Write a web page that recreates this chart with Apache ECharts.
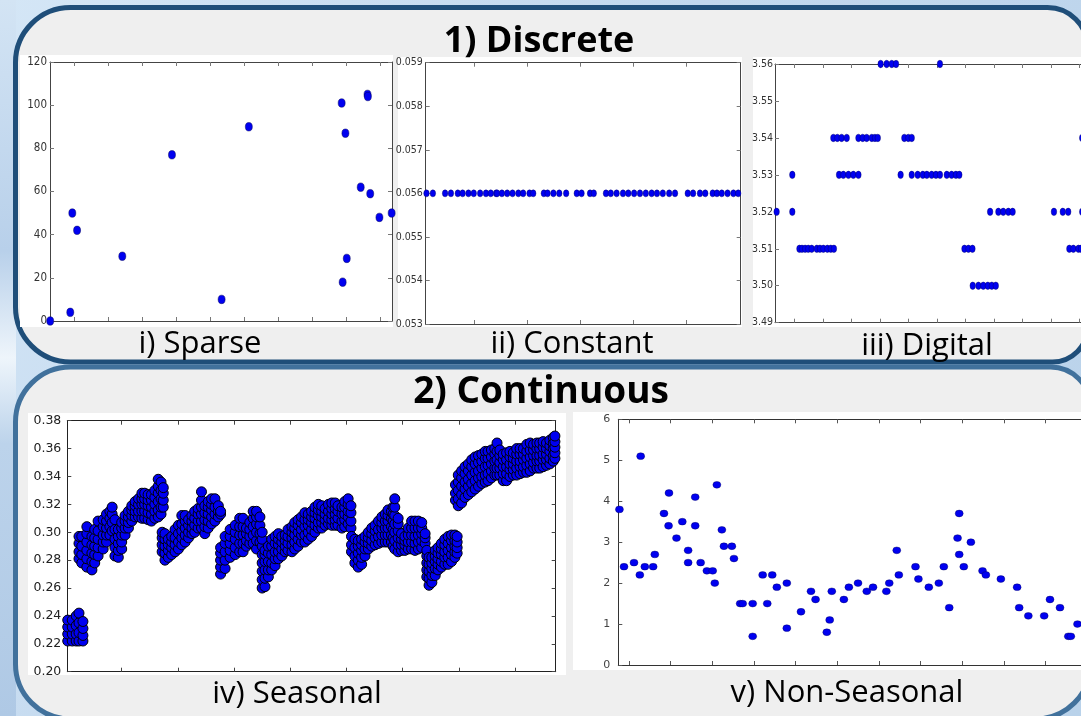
<!DOCTYPE html>
<html><head><meta charset="utf-8">
<script src="https://cdn.jsdelivr.net/npm/echarts@6/dist/echarts.min.js"></script>
<style>html,body{margin:0;padding:0;background:#cfe2f3;}#c{width:1081px;height:716px;}</style>
</head><body><div id="c"></div>
<script>
// ---------------- DATA ----------------
const panelTitles = ['1) Discrete', '2) Continuous'];
const plotTitles = ['i) Sparse', 'ii) Constant', 'iii) Digital', 'iv) Seasonal', 'v) Non-Seasonal'];

// i) Sparse
const sparseX = [-7.0, -1.1, -0.5, 0.9, 14.2, 28.8, 43.4, 51.4, 78.7, 79.8, 79.0, 80.2, 86.3, 86.4, 84.3, 87.1, 89.8, 93.4];
const sparseY = [0, 4, 50, 42, 30, 77, 10, 90, 101, 87, 18, 29, 105, 104, 62, 59, 48, 50];
const sparseXTicks = [0, 10, 20, 30, 40, 50, 60, 70, 80, 90];

// ii) Constant
const constantX = [-9.0, -7.8, -5.5, -4.4, -3.1, -2.2, -1.1, -0.1, 1.1, 2.2, 3.1, 4.1, 4.3,
  5.2, 6.2, 7.2, 8.3, 9.2, 10.4, 11.1, 13.1, 13.8, 14.9, 16.0, 17.3, 19.3,
  20.2, 21.8, 22.5, 24.8, 25.7, 26.8, 28.0, 29.0, 30.1, 31.2, 32.3, 33.4, 34.4,
  35.5, 36.7, 37.8, 40.2, 41.2, 42.5, 43.5, 44.9, 45.7, 46.6, 47.7, 48.8, 49.7];
const constantY = [0.056, 0.056, 0.056, 0.056, 0.056, 0.056, 0.056, 0.056, 0.056, 0.056, 0.056, 0.056, 0.056,
  0.056, 0.056, 0.056, 0.056, 0.056, 0.056, 0.056, 0.056, 0.056, 0.056, 0.056, 0.056, 0.056,
  0.056, 0.056, 0.056, 0.056, 0.056, 0.056, 0.056, 0.056, 0.056, 0.056, 0.056, 0.056, 0.056,
  0.056, 0.056, 0.056, 0.056, 0.056, 0.056, 0.056, 0.056, 0.056, 0.056, 0.056, 0.056, 0.056];
const constantXTicks = [0, 10, 20, 30, 40];

// iii) Digital
const digitalX = [-6.2, -0.7, -0.7,
  1.8, 2.7, 3.8, 4.9, 6.1, 7.9, 9.0, 10.2, 11.6, 12.8, 13.9,
  13.7, 15.1, 16.6, 18.4,
  15.7, 17.2, 19.0, 20.7, 22.5,
  22.5, 24.0, 25.4, 27.2, 28.3, 29.3,
  30.3, 32.4, 34.2, 35.7,
  37.3,
  38.6, 40.0, 41.2,
  41.2, 43.3, 45.1, 46.5, 48.2, 49.7, 51.1, 53.5, 55.2, 56.7, 57.9,
  51.1,
  59.7, 61.1, 62.5,
  62.6, 64.6, 66.3, 67.9, 69.3, 70.7,
  68.7, 71.6, 73.3, 75.1, 76.6,
  91.1, 94.2, 96.1,
  96.5, 97.9, 99.7, 100.6,
  101.0, 101.0];
const digitalY = [3.52, 3.53, 3.52,
  3.51, 3.51, 3.51, 3.51, 3.51, 3.51, 3.51, 3.51, 3.51, 3.51, 3.51,
  3.54, 3.54, 3.54, 3.54,
  3.53, 3.53, 3.53, 3.53, 3.53,
  3.54, 3.54, 3.54, 3.54, 3.54, 3.54,
  3.56, 3.56, 3.56, 3.56,
  3.53,
  3.54, 3.54, 3.54,
  3.53, 3.53, 3.53, 3.53, 3.53, 3.53, 3.53, 3.53, 3.53, 3.53, 3.53,
  3.56,
  3.51, 3.51, 3.51,
  3.50, 3.50, 3.50, 3.50, 3.50, 3.50,
  3.52, 3.52, 3.52, 3.52, 3.52,
  3.52, 3.52, 3.52,
  3.51, 3.51, 3.51, 3.51,
  3.54, 3.52];
const digitalXTicks = [0, 10, 20, 30, 40, 50, 60, 70, 80, 90, 100];

// iv) Seasonal : each row = [x, y values read in that column]
const seasonalSeg0 = [
  [-9.6, 0.222, 0.227, 0.232, 0.237], [-8.8, 0.222, 0.227, 0.232, 0.237],
  [-8.1, 0.222, 0.227, 0.233, 0.240], [-7.6, 0.222, 0.228, 0.235, 0.242],
  [-6.9, 0.222, 0.226, 0.231, 0.236]];
const seasonalSeg1 = [
  [-7.6, 0.281, 0.286, 0.292, 0.297], [-7.1, 0.278, 0.284, 0.290, 0.297],
  [-6.2, 0.275, 0.281, 0.287, 0.293, 0.299, 0.304], [-5.3, 0.273, 0.279, 0.285, 0.291, 0.297],
  [-4.8, 0.278, 0.284, 0.290, 0.296, 0.302], [-4.2, 0.283, 0.289, 0.295, 0.301, 0.308],
  [-3.3, 0.288, 0.293, 0.298, 0.304, 0.309], [-2.7, 0.293, 0.298, 0.303, 0.308, 0.313],
  [-2.1, 0.298, 0.304, 0.310, 0.315], [-1.7, 0.301, 0.307, 0.313, 0.318],
  [-1.2, 0.283, 0.289, 0.295, 0.302, 0.309], [-0.6, 0.282, 0.287, 0.292, 0.297, 0.302],
  [0.0, 0.288, 0.293, 0.298, 0.303, 0.307], [0.6, 0.298, 0.303, 0.308, 0.312],
  [1.2, 0.303, 0.307, 0.311, 0.315], [1.8, 0.308, 0.312, 0.316, 0.319],
  [2.4, 0.311, 0.315, 0.319, 0.322], [3.0, 0.311, 0.315, 0.320, 0.324],
  [3.6, 0.310, 0.315, 0.320, 0.324, 0.328], [4.1, 0.310, 0.315, 0.320, 0.324, 0.328],
  [4.7, 0.309, 0.314, 0.319, 0.323, 0.327], [5.3, 0.308, 0.313, 0.318, 0.323, 0.327],
  [5.9, 0.310, 0.315, 0.320, 0.325, 0.330], [6.5, 0.311, 0.316, 0.322, 0.328, 0.333, 0.338],
  [7.0, 0.313, 0.318, 0.324, 0.330, 0.336], [7.4, 0.318, 0.323, 0.328, 0.332]];
const seasonalSeg2 = [
  [7.2, 0.286, 0.291, 0.296, 0.300], [7.7, 0.280, 0.285, 0.290, 0.295, 0.299],
  [8.3, 0.282, 0.287, 0.291, 0.295], [8.9, 0.284, 0.289, 0.293, 0.297],
  [9.5, 0.286, 0.291, 0.296, 0.302], [10.1, 0.288, 0.293, 0.299, 0.305],
  [10.7, 0.291, 0.296, 0.301, 0.306, 0.312], [11.3, 0.293, 0.298, 0.303, 0.308, 0.312],
  [11.9, 0.296, 0.300, 0.305, 0.309], [12.5, 0.299, 0.303, 0.308, 0.312],
  [13.0, 0.300, 0.305, 0.310, 0.315], [13.6, 0.303, 0.308, 0.313, 0.317],
  [14.2, 0.303, 0.308, 0.313, 0.318, 0.323, 0.329], [14.8, 0.299, 0.304, 0.309, 0.314, 0.319],
  [15.4, 0.303, 0.308, 0.313, 0.318, 0.322], [16.0, 0.306, 0.311, 0.316, 0.320, 0.324],
  [16.6, 0.308, 0.313, 0.318, 0.324], [17.2, 0.311, 0.315, 0.319], [17.6, 0.313, 0.315]];
const seasonalSeg3 = [
  [17.6, 0.270, 0.275, 0.280, 0.285, 0.289], [18.4, 0.274, 0.280, 0.286, 0.292, 0.297],
  [19.3, 0.282, 0.287, 0.292, 0.297, 0.302], [20.2, 0.284, 0.289, 0.295, 0.300, 0.305],
  [21.0, 0.286, 0.292, 0.298, 0.304, 0.310], [21.6, 0.286, 0.292, 0.298, 0.304, 0.310],
  [22.2, 0.290, 0.294, 0.299, 0.303], [22.8, 0.292, 0.297, 0.302, 0.307],
  [23.4, 0.292, 0.298, 0.304, 0.310, 0.315], [24.0, 0.288, 0.294, 0.300, 0.306, 0.311, 0.315],
  [24.6, 0.293, 0.299, 0.305, 0.311]];
const seasonalSeg4 = [
  [25.0, 0.260, 0.266, 0.272, 0.278, 0.284, 0.290, 0.295, 0.300],
  [25.5, 0.261, 0.267, 0.273, 0.279, 0.284, 0.287], [26.1, 0.268, 0.273, 0.279, 0.285, 0.290],
  [26.7, 0.273, 0.278, 0.284, 0.290, 0.295], [27.3, 0.276, 0.281, 0.286, 0.292, 0.297],
  [27.9, 0.281, 0.286, 0.291, 0.295, 0.299], [28.5, 0.283, 0.288, 0.293, 0.297],
  [29.1, 0.286, 0.290, 0.294, 0.298], [29.6, 0.287, 0.292, 0.297, 0.302],
  [30.3, 0.286, 0.291, 0.296, 0.300, 0.304], [30.8, 0.288, 0.293, 0.298, 0.303, 0.307],
  [31.4, 0.290, 0.295, 0.300, 0.305, 0.309], [32.0, 0.293, 0.298, 0.302, 0.307, 0.311],
  [32.6, 0.293, 0.298, 0.304, 0.309, 0.314], [33.2, 0.295, 0.300, 0.305, 0.309, 0.313],
  [33.8, 0.297, 0.302, 0.307, 0.311, 0.315], [34.4, 0.300, 0.305, 0.310, 0.314, 0.318],
  [35.0, 0.303, 0.307, 0.312, 0.316, 0.320], [35.6, 0.303, 0.307, 0.311, 0.315, 0.319],
  [36.2, 0.305, 0.309, 0.313, 0.317], [36.8, 0.306, 0.310, 0.315, 0.320],
  [37.4, 0.305, 0.309, 0.313, 0.317, 0.321], [38.0, 0.305, 0.309, 0.313, 0.317, 0.321],
  [38.5, 0.305, 0.310, 0.315, 0.319], [39.2, 0.303, 0.308, 0.313, 0.318],
  [39.7, 0.304, 0.309, 0.313, 0.318, 0.322], [40.3, 0.306, 0.311, 0.315, 0.320, 0.324],
  [40.8, 0.303, 0.308, 0.314, 0.319]];
const seasonalSeg5 = [
  [40.9, 0.286, 0.291, 0.297], [41.5, 0.278, 0.283, 0.289, 0.295],
  [42.1, 0.275, 0.280, 0.285, 0.290, 0.294], [42.7, 0.277, 0.282, 0.287, 0.291, 0.295],
  [43.3, 0.283, 0.288, 0.293, 0.297], [43.9, 0.288, 0.292, 0.296, 0.300],
  [44.5, 0.290, 0.294, 0.299, 0.303], [45.1, 0.291, 0.296, 0.301, 0.305],
  [45.7, 0.292, 0.297, 0.302, 0.308], [46.3, 0.293, 0.298, 0.303, 0.307, 0.311],
  [46.9, 0.293, 0.298, 0.303, 0.308, 0.313], [47.4, 0.293, 0.298, 0.303, 0.308, 0.312, 0.316],
  [48.0, 0.293, 0.298, 0.304, 0.310, 0.315], [48.3, 0.290, 0.296, 0.302, 0.308, 0.313, 0.318],
  [48.6, 0.288, 0.294, 0.300, 0.306, 0.312, 0.318, 0.324], [49.2, 0.286, 0.291, 0.296, 0.301, 0.306, 0.310],
  [49.8, 0.287, 0.291, 0.295, 0.299], [50.4, 0.287, 0.291, 0.294, 0.297],
  [51.0, 0.288, 0.293, 0.298, 0.303], [51.6, 0.288, 0.293, 0.298, 0.303, 0.308],
  [52.2, 0.287, 0.292, 0.297, 0.303, 0.308], [52.8, 0.288, 0.293, 0.298, 0.303, 0.308],
  [53.4, 0.289, 0.294, 0.299, 0.303, 0.307], [54.0, 0.292, 0.296, 0.299]];
const seasonalSeg6 = [
  [54.3, 0.268, 0.273, 0.278, 0.283, 0.287], [54.7, 0.262, 0.267, 0.272, 0.277, 0.282],
  [55.2, 0.264, 0.269, 0.274, 0.278, 0.282], [55.8, 0.269, 0.274, 0.279, 0.283, 0.287],
  [56.3, 0.273, 0.277, 0.281, 0.285, 0.289], [56.9, 0.275, 0.279, 0.284, 0.288, 0.292],
  [57.5, 0.277, 0.282, 0.286, 0.291, 0.295], [58.1, 0.277, 0.282, 0.287, 0.292, 0.297],
  [58.7, 0.279, 0.284, 0.289, 0.294, 0.298], [59.3, 0.282, 0.286, 0.290, 0.294, 0.298],
  [59.7, 0.285, 0.289, 0.293, 0.297]];
const seasonalSeg7 = [
  [59.4, 0.323, 0.328, 0.334], [59.9, 0.319, 0.324, 0.330, 0.336, 0.341],
  [60.5, 0.321, 0.327, 0.333, 0.339, 0.344], [61.1, 0.325, 0.331, 0.336, 0.342, 0.347],
  [61.7, 0.327, 0.333, 0.338, 0.344, 0.349], [62.3, 0.329, 0.335, 0.341, 0.347, 0.352],
  [62.9, 0.331, 0.337, 0.343, 0.349, 0.354], [63.5, 0.333, 0.339, 0.344, 0.350, 0.355],
  [64.1, 0.335, 0.340, 0.346, 0.351, 0.356], [64.7, 0.336, 0.341, 0.347, 0.353, 0.358],
  [65.2, 0.337, 0.342, 0.348, 0.353, 0.358], [65.8, 0.339, 0.344, 0.349, 0.354, 0.359],
  [66.4, 0.341, 0.346, 0.351, 0.356, 0.360], [66.8, 0.341, 0.346, 0.352, 0.358, 0.364],
  [67.3, 0.341, 0.346, 0.350, 0.355, 0.359], [67.9, 0.337, 0.342, 0.347, 0.352, 0.356],
  [68.5, 0.337, 0.342, 0.347, 0.352, 0.357], [69.1, 0.340, 0.345, 0.349, 0.354, 0.358],
  [69.7, 0.341, 0.345, 0.349, 0.353, 0.357], [70.3, 0.341, 0.346, 0.351, 0.356, 0.360],
  [70.9, 0.342, 0.347, 0.351, 0.356, 0.360], [71.5, 0.343, 0.347, 0.352, 0.356, 0.360],
  [72.1, 0.343, 0.348, 0.353, 0.358, 0.363], [72.7, 0.344, 0.349, 0.354, 0.359, 0.364],
  [73.3, 0.346, 0.350, 0.355, 0.359, 0.363], [73.9, 0.346, 0.351, 0.355, 0.360, 0.364],
  [74.4, 0.346, 0.351, 0.355, 0.360, 0.364], [75.0, 0.347, 0.352, 0.356, 0.361, 0.365],
  [75.6, 0.348, 0.352, 0.356, 0.360, 0.364], [76.2, 0.349, 0.353, 0.358, 0.362, 0.366],
  [76.8, 0.351, 0.355, 0.360, 0.364, 0.368], [77.1, 0.353, 0.357, 0.361, 0.365, 0.369]];
const seasonalXTicks = [0, 10, 20, 30, 40, 50, 60, 70];

// v) Non-Seasonal
const nonSeasonalX = [-2.3, -1.2, 1.2, 2.6, 2.8, 3.8, 5.8, 6.2, 8.4, 9.5, 9.6, 11.4, 12.8, 14.2, 14.2, 15.9, 15.9,
  17.2, 18.7, 20.1, 20.6, 21.1, 22.3, 22.8, 24.7, 25.2, 26.7, 27.3, 29.7, 29.7, 32.1, 33.2, 34.4, 35.5,
  37.9, 37.9, 41.3, 43.7, 44.8, 47.5, 48.2, 48.7, 51.6, 52.8, 55.0, 57.1, 58.6, 61.8, 62.5, 64.3, 64.8,
  68.8, 69.5, 72.0, 74.4, 75.6, 76.9, 78.9, 79.3, 79.3, 80.4, 82.1, 84.9, 85.7, 89.3, 93.2, 93.7, 95.9,
  99.7, 101.1, 103.5, 105.5, 106.1, 107.7];
const nonSeasonalY = [3.8, 2.4, 2.5, 2.2, 5.1, 2.4, 2.4, 2.7, 3.7, 3.4, 4.2, 3.1, 3.5, 2.8, 2.5, 4.1, 3.4,
  2.5, 2.3, 2.3, 2.0, 4.4, 3.3, 2.9, 2.9, 2.6, 1.5, 1.5, 1.5, 0.7, 2.2, 1.5, 2.2, 1.9,
  2.0, 0.9, 1.3, 1.8, 1.6, 0.8, 1.1, 1.8, 1.6, 1.9, 2.0, 1.8, 1.9, 1.8, 2.0, 2.8, 2.2,
  2.4, 2.1, 1.9, 2.0, 2.4, 1.4, 3.1, 3.7, 2.7, 2.4, 3.0, 2.3, 2.2, 2.1, 1.9, 1.4, 1.2,
  1.2, 1.6, 1.4, 0.7, 0.7, 1.0];
const nonSeasonalXTicks = [0, 10, 20, 30, 40, 50, 60, 70, 80, 90, 100, 110];

// ---------------- BUILD ----------------
const zip = (xs, ys) => xs.map((x, i) => [x, ys[i]]);
const expandCols = (rows) => { const out = []; rows.forEach(r => { for (let k = 1; k < r.length; k++) out.push([r[0], r[k]]); }); return out; };
const seasonalData = [].concat(
  expandCols(seasonalSeg0), expandCols(seasonalSeg1), expandCols(seasonalSeg2), expandCols(seasonalSeg3),
  expandCols(seasonalSeg4), expandCols(seasonalSeg5), expandCols(seasonalSeg6), expandCols(seasonalSeg7));

const narrowFont = "'Liberation Sans Narrow','DejaVu Sans Condensed','Arial Narrow',sans-serif";
const plots = [
  { grid: {left: 50, top: 62, width: 342, height: 259}, xmin: -7.06, xmax: 93.5, xt: sparseXTicks,
    ymin: 0, ymax: 120, yint: 20, fmt: v => String(v), font: narrowFont, fs: 11.5, lc: '#333', margin: 3,
    frame: '#444', tick: '#777', data: zip(sparseX, sparseY), sym: [7, 8.5], border: '#00005a', bw: 0.5 },
  { grid: {left: 425.7, top: 62.7, width: 315, height: 261.3}, xmin: -9.15, xmax: 50.17, xt: constantXTicks,
    ymin: 0.053, ymax: 0.059, yint: 0.001, fmt: v => v.toFixed(3), font: narrowFont, fs: 10.5, lc: '#333', margin: 3,
    frame: '#444', tick: '#777', data: zip(constantX, constantY), sym: [5.5, 7], border: '#00005a', bw: 0.4 },
  { grid: {left: 775, top: 64, width: 320, height: 258.7}, xmin: -6.77, xmax: 105.5, xt: digitalXTicks,
    ymin: 3.49, ymax: 3.56, yint: 0.01, fmt: v => v.toFixed(2), font: narrowFont, fs: 10.5, lc: '#333', margin: 2,
    frame: '#444', tick: '#777', data: zip(digitalX, digitalY), sym: [5.5, 7.5], border: '#00005a', bw: 0.4 },
  { grid: {left: 67.3, top: 420.7, width: 488.4, height: 251}, xmin: -9.68, xmax: 77.24, xt: seasonalXTicks,
    ymin: 0.20, ymax: 0.38, yint: 0.02, fmt: v => v.toFixed(2), font: "'DejaVu Sans',sans-serif", fs: 12.5, lc: '#222', margin: 6,
    frame: '#222', tick: '#444', data: seasonalData, sym: 10, border: '#000000', bw: 1 },
  { grid: {left: 618.3, top: 419.3, width: 480, height: 245.7}, xmin: -2.57, xmax: 112.7, xt: nonSeasonalXTicks,
    ymin: 0, ymax: 6, yint: 1, fmt: v => String(v), font: "'DejaVu Sans',sans-serif", fs: 11, lc: '#444', margin: 8,
    frame: '#333', tick: '#555', data: zip(nonSeasonalX, nonSeasonalY), sym: [8, 6.8], border: '#00005a', bw: 0.4 }
];

const grid = [], xAxis = [], yAxis = [], series = [];
plots.forEach((p, i) => {
  grid.push(Object.assign({show: false, containLabel: false, outerBoundsMode: 'none'}, p.grid));
  const line = {show: true, onZero: false, lineStyle: {color: p.frame, width: 1}};
  const xt = {show: true, inside: true, length: 4, customValues: p.xt, lineStyle: {color: p.tick, width: 1}};
  ['bottom', 'top'].forEach(pos => xAxis.push({gridIndex: i, type: 'value', position: pos, min: p.xmin, max: p.xmax,
    axisLine: line, axisTick: xt, axisLabel: {show: false}, splitLine: {show: false}}));
  const yt = {show: true, inside: true, length: 4, lineStyle: {color: p.tick, width: 1}};
  yAxis.push({gridIndex: i, type: 'value', position: 'left', min: p.ymin, max: p.ymax, interval: p.yint,
    axisLine: line, axisTick: yt, splitLine: {show: false},
    axisLabel: {show: true, formatter: p.fmt, fontFamily: p.font, fontSize: p.fs, color: p.lc, margin: p.margin,
      showMinLabel: true, showMaxLabel: true}});
  yAxis.push({gridIndex: i, type: 'value', position: 'right', min: p.ymin, max: p.ymax, interval: p.yint,
    axisLine: line, axisTick: yt, splitLine: {show: false}, axisLabel: {show: false}});
  series.push({type: 'scatter', xAxisIndex: 2 * i, yAxisIndex: 2 * i, data: p.data, symbol: 'circle',
    symbolSize: p.sym, clip: true, silent: true, animation: false,
    itemStyle: {color: '#0000f0', borderColor: p.border, borderWidth: p.bw, opacity: 1}});
});

const titleFont = "'Open Sans','Noto Sans',sans-serif";
function txt(t, x, y, size, weight) {
  return {type: 'text', z: 20, style: {text: t, x: x, y: y, fill: '#000', font: weight + ' ' + size + 'px ' + titleFont,
    align: 'center', verticalAlign: 'middle', textAlign: 'center', textVerticalAlign: 'middle'}};
}
function rect(x, y, w, h, fill, z, extra) {
  return Object.assign({type: 'rect', z: z, silent: true, shape: {x: x, y: y, width: w, height: h}, style: {fill: fill}}, extra || {});
}
const graphic = [
  rect(0, 0, 1081, 716, {type: 'linear', x: 0, y: 0, x2: 1, y2: 1, colorStops: [
    {offset: 0, color: '#d4e6f6'}, {offset: 0.45, color: '#c2d8ee'}, {offset: 1, color: '#b9d2ea'}]}, -30),
  rect(0, 0, 16, 716, {type: 'linear', x: 0, y: 0, x2: 0, y2: 1, colorStops: [
    {offset: 0, color: '#d3e4f4'}, {offset: 0.35, color: '#b8d0ea'}, {offset: 0.5, color: '#eef5fb'},
    {offset: 0.62, color: '#bcd3eb'}, {offset: 1, color: '#afc9e5'}]}, -29),
  {type: 'rect', z: -20, silent: true, shape: {x: 15.5, y: 7.5, width: 1072, height: 354.5, r: [55, 40, 35, 55]},
    style: {fill: '#efefef', stroke: '#1f4e79', lineWidth: 5}},
  {type: 'rect', z: -19, silent: true, shape: {x: 15.5, y: 367, width: 1075, height: 352, r: [55, 40, 55, 55]},
    style: {fill: '#efefef', stroke: '#41719c', lineWidth: 5}},
  rect(20, 55, 373, 272, '#ffffff', -10),
  rect(398, 57, 344, 270, '#ffffff', -10),
  rect(753, 57, 340, 270, '#ffffff', -10),
  rect(28, 413, 538, 262, '#ffffff', -10),
  rect(573, 412, 520, 258, '#ffffff', -10),
  rect(395, 327, 350, 6, '#efefef', 15),
  rect(22, 675, 540, 6, '#efefef', 15),
  txt(panelTitles[0], 539, 42, 36, 'bold'),
  txt(panelTitles[1], 541, 392, 37, 'bold'),
  txt(plotTitles[0], 200, 344, 31, 'normal'),
  txt(plotTitles[1], 572, 344, 31, 'normal'),
  txt(plotTitles[2], 927, 346, 31, 'normal'),
  txt(plotTitles[3], 297, 694, 31, 'normal'),
  txt(plotTitles[4], 847, 693, 31, 'normal')
];

const chart = echarts.init(document.getElementById('c'), null, {renderer: 'canvas'});
chart.setOption({animation: false, backgroundColor: '#cfe2f3', grid, xAxis, yAxis, series, graphic});
</script>
</body></html>
